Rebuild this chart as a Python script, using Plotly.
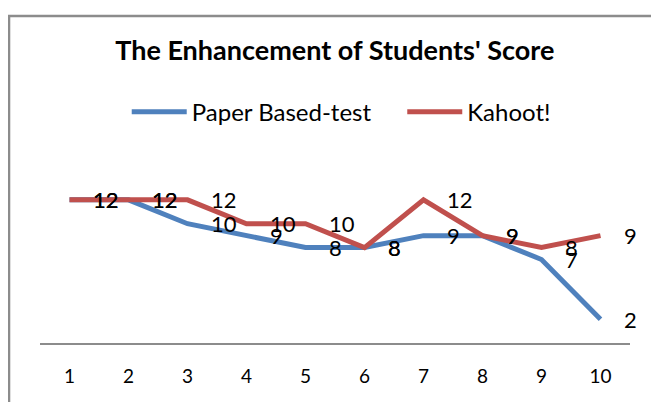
import plotly.graph_objects as go

# ---------------------------- data -----------------------
tests = [1, 2, 3, 4, 5, 6, 7, 8, 9, 10]
paper_scores = [12, 12, 10, 9, 8, 8, 9, 9, 7, 2]
kahoot_scores = [12, 12, 12, 10, 10, 8, 12, 9, 8, 9]

BLUE = "#4F81BD"
RED = "#C0504D"
FONT = "Lato, 'Open Sans', sans-serif"

fig = go.Figure()

fig.add_trace(go.Scatter(x=tests, y=paper_scores, mode="lines", name="Paper Based-test",
                         line=dict(color=BLUE, width=5), legend="legend"))
fig.add_trace(go.Scatter(x=tests, y=kahoot_scores, mode="lines", name="Kahoot!",
                         line=dict(color=RED, width=5), legend="legend2"))

# data labels, to the right of each point
for series in (paper_scores, kahoot_scores):
    for t, v in zip(tests, series):
        fig.add_annotation(x=t, y=v, text=str(v), showarrow=False,
                           xanchor="left", yanchor="middle", xshift=21,
                           font=dict(family=FONT, size=22, color="black"))

# chart border (only left and top edge visible)
fig.add_shape(type="rect", xref="paper", yref="paper",
              x0=-0.0525, x1=1.2, y0=-0.5, y1=1.958,
              line=dict(color="#8c8c8c", width=2.5), layer="below")

legend_style = dict(orientation="h", xanchor="left", y=1.383, yanchor="middle",
                    font=dict(family=FONT, size=24, color="black"),
                    itemwidth=55, bgcolor="rgba(0,0,0,0)")

# page body has 8px margin, so figure is 8px smaller than the window
fig.update_layout(
    width=651, height=394,
    margin=dict(l=32, r=29, t=168, b=59),
    paper_bgcolor="white", plot_bgcolor="white",
    title=dict(text="<b>The Enhancement of Students' Score</b>",
               x=0.502, xanchor="center", y=0.893, yanchor="middle",
               font=dict(family=FONT, size=27, color="black")),
    legend=dict(x=0.147, **legend_style),
    legend2=dict(x=0.614, **legend_style),
    showlegend=True,
)

fig.update_xaxes(range=[0.5, 10.5], tickmode="array", tickvals=tests,
                 ticktext=[str(t) for t in tests],
                 showgrid=False, zeroline=False, showline=True,
                 linecolor="#8c8c8c", linewidth=2, ticks="",
                 ticklabelstandoff=15,
                 tickfont=dict(family=FONT, size=19, color="black"))
fig.update_yaxes(range=[0, 14], visible=False, showgrid=False, zeroline=False)

fig.write_html("out.html")
